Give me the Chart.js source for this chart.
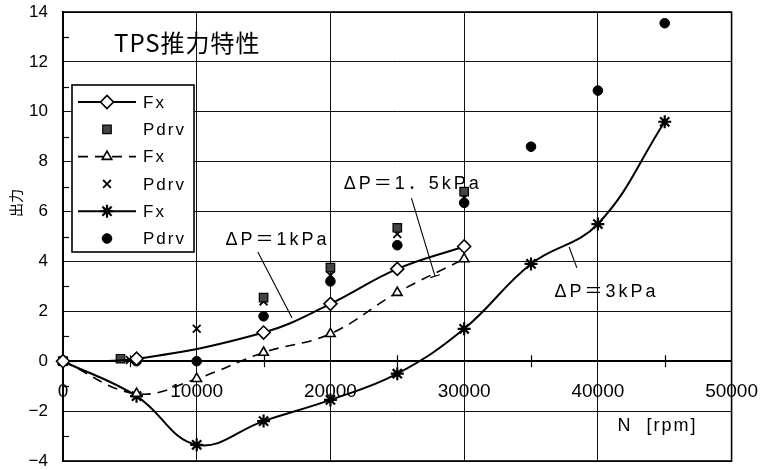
<!DOCTYPE html>
<html><head><meta charset="utf-8">
<script src="https://cdn.jsdelivr.net/npm/chart.js@4/dist/chart.umd.min.js"></script>
<style>html,body{margin:0;padding:0;background:#fff}#wrap{width:777px;height:470px}</style>
</head><body><div id="wrap"><canvas id="c" width="777" height="470"></canvas></div>
<script>
// ---- data (N [rpm] , output) ----
const rpmFx1   = [0, 5500, 15000, 20000, 25000, 30000];
const fx1      = [0, 0.1, 1.15, 2.3, 3.7, 4.6];
const rpmPdrv1 = [0, 4300, 15000, 20000, 25000, 30000];
const pdrv1    = [0, 0.1, 2.55, 3.75, 5.35, 6.8];
const rpmFx15  = [0, 5500, 10000, 15000, 20000, 25000, 30000];
const fx15     = [0, -1.3, -0.7, 0.35, 1.1, 2.75, 4.1];
const rpmPdrv15= [0, 5000, 10000, 15000, 20000, 25000, 30000];
const pdrv15   = [0, 0.05, 1.3, 2.4, 3.45, 5.1, 6.55];
const rpmFx3   = [0, 5500, 10000, 15000, 20000, 25000, 30000, 35000, 40000, 45000];
const fx3      = [0, -1.4, -3.35, -2.4, -1.55, -0.5, 1.3, 3.9, 5.5, 9.6];
const rpmPdrv3 = [0, 5500, 10000, 15000, 20000, 25000, 30000, 35000, 40000, 45000];
const pdrv3    = [0, 0, 0, 1.8, 3.2, 4.65, 6.35, 8.6, 10.85, 13.55];
const seriesLabels = ['Fx', 'Pdrv', 'Fx', 'Pdrv', 'Fx', 'Pdrv'];
const titleText = 'TPS推力特性';
const yAxisTitle = '出力';
const xAxisTitle = 'N  [rpm]';
const annoTexts = ['ΔP＝1kPa', 'ΔP＝1．5kPa', 'ΔP＝3kPa'];

function pts(xs, ys) { return xs.map((x, i) => ({x: x, y: ys[i]})); }

// annotation placement in data units
const annoPlace = [
  {tx: 12150, ty: 4.86, x1: 14570, y1: 4.38, x2: 17130, y2: 1.73, bar: false},
  {tx: 21000, ty: 7.1,  x1: 26060, y1: 6.54, x2: 27820, y2: 3.41, bar: true},
  {tx: 36750, ty: 2.77, x1: 37850, y1: 4.58, x2: 38430, y2: 3.74, bar: false}
];

const H = Chart.helpers;
const LBL_FONT = '17px "Liberation Sans", Arial, sans-serif';

const decor = {
  id: 'decor',
  beforeDatasetsDraw(chart) {
    const {ctx, chartArea: a, scales: {x, y}} = chart;
    ctx.save();
    ctx.strokeStyle = '#000';
    // minor ticks on y axis (odd values)
    ctx.lineWidth = 1.2;
    for (let v = -3; v <= 13; v += 2) {
      const py = Math.round(y.getPixelForValue(v)) + 0.5;
      ctx.beginPath(); ctx.moveTo(a.left, py); ctx.lineTo(a.left + 6, py); ctx.stroke();
    }
    // minor ticks on x axis (5000 steps)
    const zy = y.getPixelForValue(0);
    for (let v = 5000; v < 50000; v += 10000) {
      const px = Math.round(x.getPixelForValue(v)) + 0.5;
      ctx.beginPath(); ctx.moveTo(px, zy - 6); ctx.lineTo(px, zy + 6); ctx.stroke();
    }
    // frame
    ctx.lineWidth = 1.6;
    ctx.strokeRect(a.left, a.top, a.right - a.left, a.bottom - a.top);
    // annotation leaders
    ctx.lineWidth = 1.1;
    annoPlace.forEach(p => {
      const X1 = x.getPixelForValue(p.x1), Y1 = y.getPixelForValue(p.y1);
      const X2 = x.getPixelForValue(p.x2), Y2 = y.getPixelForValue(p.y2);
      ctx.beginPath(); ctx.moveTo(X1, Y1); ctx.lineTo(X2, Y2); ctx.stroke();
      if (p.bar) {
        const dx = X2 - X1, dy = Y2 - Y1, L = Math.hypot(dx, dy);
        const nx = -dy / L * 5, ny = dx / L * 5;
        ctx.beginPath(); ctx.moveTo(X2 - nx, Y2 - ny); ctx.lineTo(X2 + nx, Y2 + ny); ctx.stroke();
      }
    });
    ctx.restore();
  },
  afterDraw(chart) {
    const {ctx, chartArea: a, scales: {x, y}} = chart;
    ctx.save();
    ctx.fillStyle = '#000';
    ctx.textBaseline = 'middle';
    // title
    ctx.font = '24px "Noto Sans CJK JP", sans-serif';
    ctx.letterSpacing = '1px';
    ctx.textAlign = 'left';
    ctx.fillText(titleText, a.left + 51, 43);
    // annotations
    ctx.font = '18px "Liberation Sans", "Noto Sans CJK JP", sans-serif';
    ctx.letterSpacing = '3px';
    annoPlace.forEach((p, i) => {
      ctx.fillText(annoTexts[i], x.getPixelForValue(p.tx), y.getPixelForValue(p.ty));
    });
    // x axis title
    ctx.letterSpacing = '2px';
    ctx.font = '18px "Liberation Sans", sans-serif';
    ctx.fillText(xAxisTitle, a.right - 114, y.getPixelForValue(-2.6));
    // y axis title
    ctx.letterSpacing = '0px';
    ctx.save();
    ctx.translate(16, 203);
    ctx.rotate(-Math.PI / 2);
    ctx.textAlign = 'center';
    ctx.font = '14px "Noto Sans CJK JP", sans-serif';
    ctx.fillText(yAxisTitle, 0, 0);
    ctx.restore();
    // legend
    const lx = a.left + 9, ly = 85, lw = 122, lh = 167;
    ctx.fillStyle = '#fff';
    ctx.fillRect(lx, ly, lw, lh);
    ctx.strokeStyle = '#000';
    ctx.lineWidth = 1.6;
    ctx.strokeRect(lx, ly, lw, lh);
    chart.data.datasets.forEach((ds, i) => {
      const cy = ly + 17 + i * 27.3;
      if (ds.showLine) {
        ctx.save();
        ctx.lineWidth = ds.borderWidth;
        ctx.setLineDash(ds.borderDash || []);
        ctx.strokeStyle = '#000';
        ctx.beginPath(); ctx.moveTo(lx + 6, cy); ctx.lineTo(lx + 64, cy); ctx.stroke();
        ctx.restore();
      }
      ctx.save();
      ctx.fillStyle = ds.pointBackgroundColor;
      ctx.strokeStyle = ds.pointBorderColor;
      ctx.lineWidth = ds.pointBorderWidth;
      H.drawPoint(ctx, {pointStyle: ds.pointStyle, rotation: 0, radius: ds.pointRadius, borderWidth: ds.pointBorderWidth}, lx + 35, cy);
      ctx.restore();
      ctx.fillStyle = '#000';
      ctx.font = LBL_FONT;
      ctx.letterSpacing = '2px';
      ctx.textAlign = 'left';
      ctx.fillText(seriesLabels[i], lx + 71, cy + 1);
    });
    ctx.restore();
  }
};

const lineBase = {showLine: true, borderColor: '#000', tension: 0.4, clip: false, pointBorderColor: '#000'};
const dotBase = {showLine: false, clip: false, pointBorderColor: '#000', borderColor: '#000'};

new Chart(document.getElementById('c'), {
  type: 'scatter',
  data: {
    datasets: [
      Object.assign({label: seriesLabels[0], data: pts(rpmFx1, fx1), borderWidth: 2, pointStyle: 'rectRot', pointRadius: 6.5, pointBackgroundColor: '#fff', pointBorderWidth: 1.6}, lineBase),
      Object.assign({label: seriesLabels[1], data: pts(rpmPdrv1, pdrv1), pointStyle: 'rect', pointRadius: 6, pointBackgroundColor: '#444', pointBorderWidth: 1.2}, dotBase),
      Object.assign({label: seriesLabels[2], data: pts(rpmFx15, fx15), borderWidth: 1.6, borderDash: [10, 7], pointStyle: 'triangle', pointRadius: 5.5, pointBackgroundColor: '#fff', pointBorderWidth: 1.6}, lineBase),
      Object.assign({label: seriesLabels[3], data: pts(rpmPdrv15, pdrv15), pointStyle: 'crossRot', pointRadius: 5.5, pointBackgroundColor: '#000', pointBorderWidth: 1.8}, dotBase),
      Object.assign({label: seriesLabels[4], data: pts(rpmFx3, fx3), borderWidth: 2, pointStyle: 'star', pointRadius: 6.5, pointBackgroundColor: '#000', pointBorderWidth: 2.2}, lineBase),
      Object.assign({label: seriesLabels[5], data: pts(rpmPdrv3, pdrv3), pointStyle: 'circle', pointRadius: 4.8, pointBackgroundColor: '#000', pointBorderWidth: 1}, dotBase)
    ]
  },
  options: {
    responsive: false,
    animation: false,
    events: [],
    layout: {padding: {left: 0, right: 31, top: 12, bottom: 9}},
    plugins: {legend: {display: false}, tooltip: {enabled: false}, title: {display: false}},
    scales: {
      x: {
        type: 'linear', position: {y: 0}, min: 0, max: 50000,
        grid: {color: '#111', lineWidth: 1, drawTicks: false},
        border: {display: true, color: '#000', width: 2},
        ticks: {stepSize: 10000, autoSkip: false, maxRotation: 0, padding: 19, color: '#000',
                font: {family: '"Liberation Sans", Arial, sans-serif', size: 19},
                callback: v => String(v)}
      },
      y: {
        type: 'linear', position: 'left', min: -4, max: 14,
        grid: {color: '#111', lineWidth: ctx => ctx.tick && ctx.tick.value === 0 ? 2 : 1, drawTicks: false},
        border: {display: true, color: '#000', width: 2},
        ticks: {stepSize: 2, padding: 15, color: '#000',
                font: {family: '"Liberation Sans", Arial, sans-serif', size: 17},
                callback: v => v < 0 ? '−' + (-v) : String(v)},
        afterFit: s => { s.width = 63; s.paddingTop = 0; s.paddingBottom = 0; }
      }
    }
  },
  plugins: [decor]
});
</script>
</body></html>
